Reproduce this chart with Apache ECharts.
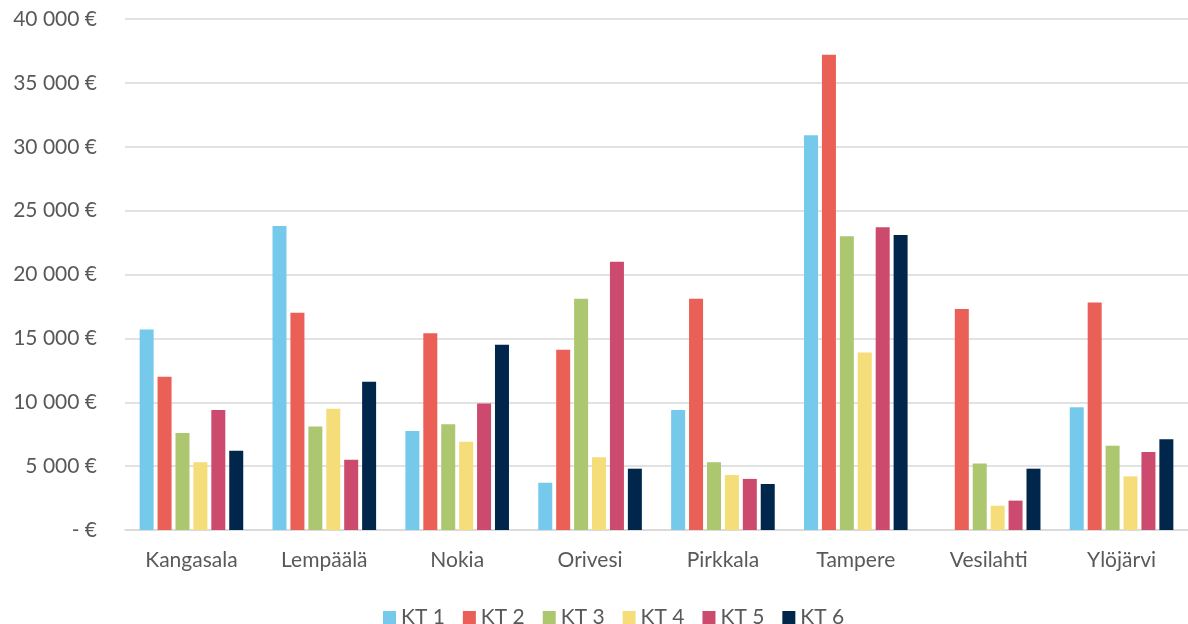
<!DOCTYPE html>
<html><head><meta charset="utf-8">
<script src="https://cdn.jsdelivr.net/npm/echarts@6/dist/echarts.min.js"></script>
<style>html,body{margin:0;padding:0;background:#fff}#c{width:1188px;height:624px}</style>
</head><body><div id="c"></div>
<script>
const categories = ["Kangasala","Lempäälä","Nokia","Orivesi","Pirkkala","Tampere","Vesilahti","Ylöjärvi"];
const seriesNames = ["KT 1","KT 2","KT 3","KT 4","KT 5","KT 6"];
const kt1 = [15700, 23800, 7750, 3700, 9400, 30900, 0, 9600];
const kt2 = [12000, 17000, 15400, 14100, 18100, 37200, 17300, 17800];
const kt3 = [7600, 8100, 8270, 18100, 5300, 23000, 5200, 6600];
const kt4 = [5300, 9500, 6900, 5700, 4300, 13900, 1900, 4200];
const kt5 = [9400, 5500, 9900, 21000, 4000, 23700, 2300, 6100];
const kt6 = [6200, 11600, 14500, 4800, 3600, 23100, 4800, 7100];
const colors = ["#75CAEB","#EA5F56","#ACC76F","#F5DD79","#CC4A6D","#00264C"];
const values = [kt1, kt2, kt3, kt4, kt5, kt6];

const font = "Lato, 'Open Sans', sans-serif";
function fmt(v){
  if (v === 0) return "- €";
  return String(v).replace(/\B(?=(\d{3})+(?!\d))/g, " ") + " €";
}
const chart = echarts.init(document.getElementById('c'));
chart.setOption({
  animation: false,
  backgroundColor: '#fff',
  color: colors,
  textStyle: {fontFamily: font},
  grid: {left: 125, right: 0, top: 19, bottom: 94, containLabel: false},
  legend: {
    data: seriesNames, left: 383, top: 607, padding: 0,
    itemWidth: 13, itemHeight: 13, itemGap: 18,
    icon: 'rect',
    textStyle: {color: '#595959', fontSize: 21, fontFamily: font}
  },
  xAxis: {
    type: 'category', data: categories,
    axisLine: {show: true, lineStyle: {color: '#D9D9D9', width: 1.5}},
    axisTick: {show: false},
    axisLabel: {color: '#595959', fontSize: 21, fontFamily: font, margin: 20}
  },
  yAxis: {
    type: 'value', min: 0, max: 40000, interval: 5000,
    axisLine: {show: false}, axisTick: {show: false},
    splitLine: {lineStyle: {color: '#D9D9D9', width: 1.5}},
    axisLabel: {color: '#595959', fontSize: 21, fontFamily: font, margin: 28, formatter: fmt}
  },
  series: seriesNames.map((n, i) => ({
    name: n, type: 'bar', data: values[i], barWidth: 14, barGap: '28%',
    itemStyle: {color: colors[i]}
  }))
});
</script></body></html>
